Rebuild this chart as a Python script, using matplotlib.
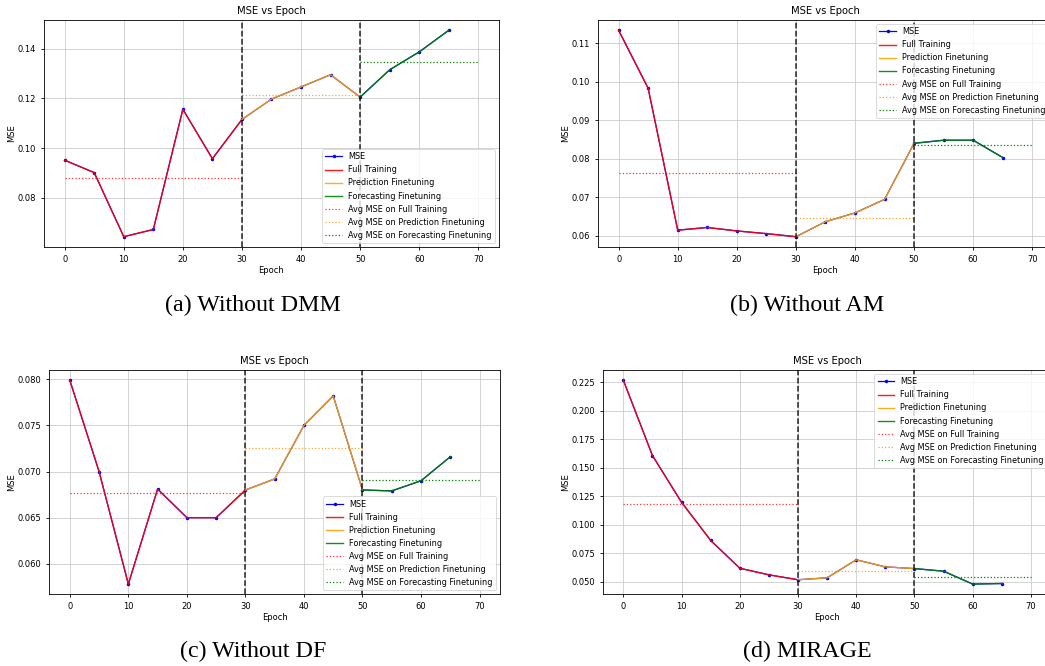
import matplotlib
matplotlib.use("Agg")
import matplotlib.pyplot as plt
import numpy as np

# epochs shared by all four runs
epochs = [0, 5, 10, 15, 20, 25, 30, 35, 40, 45, 50, 55, 60, 65]

mse_dmm = [0.0951, 0.0901, 0.0643, 0.0672, 0.1156, 0.0957, 0.1115,
           0.1197, 0.1246, 0.1295, 0.1205, 0.1315, 0.1387, 0.1474]
mse_am = [0.1134, 0.0983, 0.0614, 0.0621, 0.0612, 0.0605, 0.0597,
          0.0636, 0.0659, 0.0694, 0.0840, 0.0848, 0.0848, 0.0803]
mse_df = [0.0799, 0.0700, 0.0578, 0.0681, 0.0650, 0.0650, 0.0680,
          0.0692, 0.0750, 0.0782, 0.0680, 0.0679, 0.0690, 0.0716]
mse_mirage = [0.2268, 0.1607, 0.1197, 0.0863, 0.0619, 0.0561, 0.0518,
              0.0535, 0.0693, 0.0631, 0.0616, 0.0593, 0.0480, 0.0485]

captions = ["(a) Without DMM", "(b) Without AM", "(c) Without DF", "(d) MIRAGE"]
runs = [mse_dmm, mse_am, mse_df, mse_mirage]

# phase boundaries (epochs)
full_end = 30
pred_end = 50
last_epoch = 70

plt.rcParams.update({
    "font.size": 6,
    "axes.titlesize": 7.2,
    "axes.labelsize": 6,
    "xtick.labelsize": 6,
    "ytick.labelsize": 6,
    "legend.fontsize": 5.85,
    "lines.linewidth": 0.9,
    "axes.linewidth": 0.6,
    "xtick.major.width": 0.6,
    "ytick.major.width": 0.6,
    "xtick.major.size": 2.1,
    "ytick.major.size": 2.1,
    "grid.linewidth": 0.6,
    "patch.linewidth": 0.6,
})

fig = plt.figure(figsize=(10.45, 6.66), dpi=100)

# axes boxes in figure fractions [left, bottom, width, height]
boxes = [
    [0.0421, 0.6291, 0.4354, 0.3409],
    [0.5722, 0.6291, 0.4354, 0.3409],
    [0.0472, 0.1077, 0.4313, 0.3367],
    [0.5770, 0.1077, 0.4290, 0.3367],
]
legend_locs = ["lower right", "upper right", "lower right", "upper right"]
caption_xy = [(253, 305), (807, 305), (253, 651), (807, 651)]

for box, mse, loc, cap, cxy in zip(boxes, runs, legend_locs, captions, caption_xy):
    ax = fig.add_axes(box)
    x = np.array(epochs)
    y = np.array(mse)
    i_full = list(x).index(full_end)
    i_pred = list(x).index(pred_end)

    ax.plot(x, y, color="blue", marker=".", markersize=3, label="MSE")
    ax.plot(x[:i_full + 1], y[:i_full + 1], color="red", alpha=0.9, lw=1.0,
            label="Full Training")
    ax.plot(x[i_full:i_pred + 1], y[i_full:i_pred + 1], color="orange", alpha=0.9, lw=1.0,
            label="Prediction Finetuning")
    ax.plot(x[i_pred:], y[i_pred:], color="green", alpha=0.9, lw=1.0,
            label="Forecasting Finetuning")

    avg_full = y[:i_full].mean()
    avg_pred = y[i_full:i_pred].mean()
    avg_fore = y[i_pred:].mean()
    ax.plot([0, full_end], [avg_full, avg_full], color="red", linestyle=":", alpha=0.8,
            label="Avg MSE on Full Training")
    ax.plot([full_end, pred_end], [avg_pred, avg_pred], color="darkorange", linestyle=":",
            alpha=0.8, label="Avg MSE on Prediction Finetuning")
    ax.plot([pred_end, last_epoch], [avg_fore, avg_fore], color="green", linestyle=":",
            label="Avg MSE on Forecasting Finetuning")

    ax.axvline(full_end, color="black", linestyle="--", linewidth=1.1, alpha=0.85)
    ax.axvline(pred_end, color="black", linestyle="--", linewidth=1.1, alpha=0.85)

    ax.set_title("MSE vs Epoch", pad=4)
    ax.set_xlabel("Epoch", labelpad=1.5)
    ax.set_ylabel("MSE", labelpad=1)
    ax.set_xticks(range(0, 71, 10))
    ax.grid(True, color="#cccccc")
    ax.legend(loc=loc, borderaxespad=0.5, handlelength=2.0)

    fig.text(cxy[0] / 1045, 1 - cxy[1] / 666, cap, family="Liberation Serif",
             fontsize=17.3, ha="center", va="center")

fig.savefig("out.png", dpi=100)
